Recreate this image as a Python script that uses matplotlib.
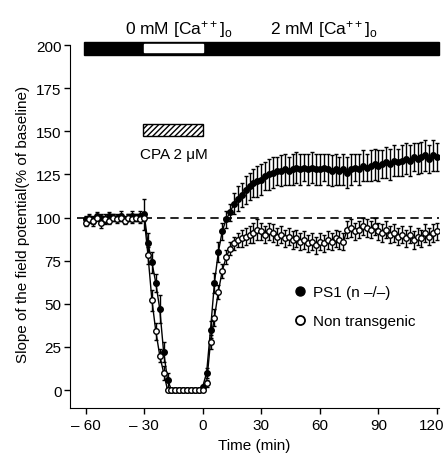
import matplotlib
matplotlib.use("Agg")
import matplotlib.pyplot as plt
import matplotlib.transforms as mtransforms
from matplotlib.patches import Rectangle
from matplotlib.lines import Line2D

plt.rcParams['font.family'] = ['Liberation Sans', 'DejaVu Sans']
plt.rcParams['mathtext.default'] = 'regular'
plt.rcParams['hatch.linewidth'] = 1.0

time_min = list(range(-60, 121, 2))

ps1_vals = (
    [99, 100, 98, 101, 100, 99, 101, 100, 100, 101, 99, 100, 101, 100, 101, 102]
    + [85, 74, 62, 47, 22, 6]
    + [0, 0, 0, 0, 0, 0, 0, 0]
    + [2, 10, 35, 62, 80, 92, 99, 103, 108, 111]
    + [113, 116, 118, 120, 121, 122, 124, 125, 126, 127]
    + [127, 128, 127, 128, 129, 128, 129, 128, 129, 128]
    + [128, 129, 128, 127, 128, 127, 128, 126, 128, 129]
    + [128, 130, 129, 130, 131, 130, 131, 132, 131, 133]
    + [132, 133, 134, 133, 135, 134, 135, 136, 134, 136]
    + [135]
)
ps1_err = (
    [2, 2, 3, 2, 2, 3, 2, 2, 2, 3, 2, 2, 3, 2, 3, 9]
    + [6, 6, 5, 8, 6, 4]
    + [0, 0, 0, 0, 0, 0, 0, 0]
    + [1, 3, 5, 6, 6, 5, 5, 5, 6, 7]
    + [7, 8, 8, 8, 9, 9, 8, 9, 9, 8]
    + [9, 9, 8, 9, 9, 9, 8, 9, 9, 9]
    + [9, 8, 9, 9, 9, 8, 9, 9, 9, 8]
    + [9, 9, 8, 9, 9, 9, 8, 9, 9, 9]
    + [8, 9, 9, 9, 8, 9, 9, 9, 8, 9]
    + [8]
)
nontg_vals = (
    [97, 99, 98, 100, 97, 99, 98, 100, 99, 100, 98, 100, 99, 100, 99, 100]
    + [78, 52, 34, 20, 10, 0]
    + [0, 0, 0, 0, 0, 0, 0, 0]
    + [0, 4, 28, 42, 57, 69, 77, 82, 85, 87]
    + [88, 89, 90, 91, 93, 92, 90, 92, 91, 89]
    + [90, 88, 89, 87, 88, 86, 87, 85, 86, 84]
    + [86, 85, 87, 86, 88, 87, 86, 93, 94, 92]
    + [93, 95, 94, 93, 95, 92, 91, 93, 90, 91]
    + [89, 90, 88, 90, 87, 89, 88, 91, 89, 91]
    + [92]
)
nontg_err = (
    [2, 2, 2, 2, 3, 2, 2, 2, 2, 2, 2, 2, 2, 2, 2, 2]
    + [5, 6, 5, 4, 4, 0]
    + [0, 0, 0, 0, 0, 0, 0, 0]
    + [0, 2, 4, 5, 4, 4, 4, 4, 4, 4]
    + [5, 5, 5, 6, 6, 5, 5, 5, 5, 5]
    + [5, 5, 5, 5, 5, 5, 5, 5, 5, 5]
    + [5, 5, 5, 5, 5, 5, 5, 5, 5, 5]
    + [5, 5, 5, 5, 5, 5, 5, 5, 5, 5]
    + [5, 5, 5, 5, 5, 5, 5, 5, 5, 5]
    + [5]
)

xticks = [-60, -30, 0, 30, 60, 90, 120]
xtick_labels = ['\u2013 60', '\u2013 30', '0', '30', '60', '90', '120']
yticks = [0, 25, 50, 75, 100, 125, 150, 175, 200]
series_labels = ['PS1 (n \u2013/\u2013)', 'Non transgenic']

fig = plt.figure(figsize=(4.48, 4.60), dpi=100)
ax = fig.add_axes([0.156, 0.111, 0.824, 0.802])

ax.axhline(100, xmin=0.02, xmax=1.0, color='black', lw=1.2, ls=(0, (5, 3)), zorder=1)

ax.errorbar(time_min, ps1_vals, yerr=ps1_err, fmt='-o', color='black', ms=4.0,
            mfc='black', mec='black', lw=1.0, elinewidth=1.0, capsize=1.5, zorder=3)
ax.errorbar(time_min, nontg_vals, yerr=nontg_err, fmt='-o', color='black', ms=4.0,
            mfc='white', mec='black', mew=1.0, lw=1.0, elinewidth=1.0, capsize=1.5, zorder=4)

# Ca bar at top
ax.add_patch(Rectangle((-61, 194.2), 182, 7.3, facecolor='black', edgecolor='black',
                       clip_on=False, zorder=5))
ax.add_patch(Rectangle((-30, 195.8), 30, 4.8, facecolor='white', edgecolor='white',
                       clip_on=False, zorder=6))
# CPA bar
ax.add_patch(Rectangle((-30.5, 147), 30.5, 7.3, facecolor='white', edgecolor='black',
                       hatch='//////', lw=1.0, zorder=5))
ax.text(-15, 137, 'CPA 2 \u03bcM', ha='center', va='center', fontsize=11)

ax.text(-12, 209.5, '0 mM [Ca$^{++}$]$_{o}$', ha='center', va='center', fontsize=12.5, clip_on=False)
ax.text(62, 209.5, '2 mM [Ca$^{++}$]$_{o}$', ha='center', va='center', fontsize=12.5, clip_on=False)

ax.set_xlim(-68, 121)
ax.set_ylim(-10.4, 203.5)
ax.set_xticks(xticks)
ax.set_xticklabels(xtick_labels)
ax.set_yticks(yticks)
ax.tick_params(direction='out', length=4, width=1, labelsize=11)
ax.tick_params(axis='y', pad=2)
for s in ['top', 'right']:
    ax.spines[s].set_visible(False)
ax.spines['left'].set_bounds(-10.4, 200)
ax.set_xlabel('Time (min)', fontsize=11)
ax.set_ylabel('Slope of the field potential(% of baseline)', fontsize=11)

# nudge last tick label left so it stays in the picture
last = ax.get_xticklabels()[-1]
last.set_transform(last.get_transform() + mtransforms.ScaledTranslation(-5 / 100, 0, fig.dpi_scale_trans))

handles = [Line2D([], [], ls='none', marker='o', ms=6.5, mfc='black', mec='black'),
           Line2D([], [], ls='none', marker='o', ms=6.5, mfc='white', mec='black', mew=1.3)]
ax.legend(handles, series_labels, loc='upper left', bbox_to_anchor=(0.56, 0.37),
          frameon=False, fontsize=11, handletextpad=0.3, labelspacing=1.0,
          handlelength=1.2)

fig.savefig('out.png', dpi=100)
